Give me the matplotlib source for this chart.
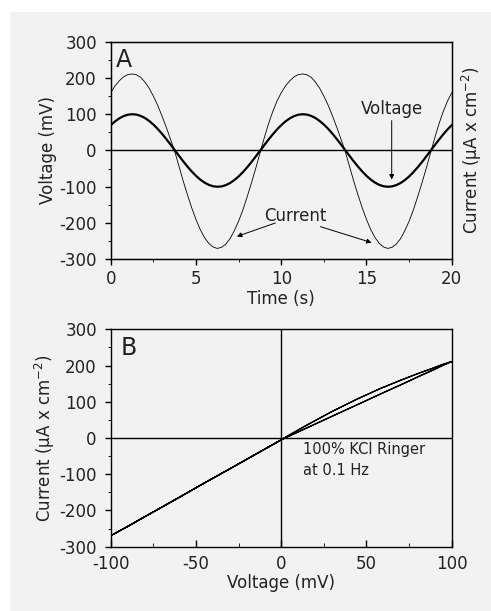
import numpy as np
import matplotlib
matplotlib.use("Agg")
import matplotlib.pyplot as plt
from matplotlib.patches import Rectangle
from matplotlib.ticker import MultipleLocator

plt.rcParams['font.family'] = ['DejaVu Sans']
plt.rcParams['axes.unicode_minus'] = False

# sinusoidal clamp, 0.1 Hz, sampled every 0.25 s
time_s = np.arange(0, 20.01, 0.25)

voltage_mv = [
    69.8, 80.2, 88.5, 94.7, 98.6, 100.0, 99.0, 95.5, 89.7, 81.6,
    71.6, 59.8, 46.5, 32.1, 16.9, 1.3, -14.4, -29.7, -44.3, -57.8,
    -69.8, -80.2, -88.5, -94.7, -98.6, -100.0, -99.0, -95.5, -89.7, -81.6,
    -71.6, -59.8, -46.5, -32.1, -16.9, -1.3, 14.4, 29.7, 44.3, 57.8,
    69.8, 80.2, 88.5, 94.7, 98.6, 100.0, 99.0, 95.5, 89.7, 81.6,
    71.6, 59.8, 46.5, 32.1, 16.9, 1.3, -14.4, -29.7, -44.3, -57.8,
    -69.8, -80.2, -88.5, -94.7, -98.6, -100.0, -99.0, -95.5, -89.7, -81.6,
    -71.6, -59.8, -46.5, -32.1, -16.9, -1.3, 14.4, 29.7, 44.3, 57.8,
    69.8,
]

current_ua = [
    159, 178, 192, 203, 209, 211, 209, 202, 189, 172,
    150, 125, 96, 65, 32, -2, -43, -84, -122, -158,
    -190, -218, -240, -256, -266, -270, -267, -258, -243, -221,
    -195, -164, -128, -90, -50, -8, 34, 73, 107, 136,
    159, 178, 192, 203, 209, 211, 209, 202, 189, 172,
    150, 125, 96, 65, 32, -2, -43, -84, -122, -158,
    -190, -218, -240, -256, -266, -270, -267, -258, -243, -221,
    -195, -164, -128, -90, -50, -8, 34, 73, 107, 136,
    159,
]

txt = '#222222'
bg = '#f2f2f2'

fig = plt.figure(figsize=(4.91, 6.11), dpi=100, facecolor='white')
fig.patches.append(Rectangle((10 / 491, 0.0), 1 - 10 / 491, 0.98,
                             transform=fig.transFigure, facecolor=bg,
                             edgecolor='none', zorder=-10))

axA = fig.add_axes([0.2255, 0.5756, 0.6945, 0.3562])
axB = fig.add_axes([0.2255, 0.1052, 0.6945, 0.3558])

for ax in (axA, axB):
    ax.set_facecolor(bg)
    for sp in ax.spines.values():
        sp.set_linewidth(1.0)
    ax.tick_params(labelsize=12, colors='k', labelcolor=txt, width=1.0)
    ax.tick_params(axis='y', which='major', direction='out', length=4, pad=6)
    ax.tick_params(axis='y', which='minor', direction='out', length=2.5)
    ax.yaxis.set_major_locator(MultipleLocator(100))
    ax.yaxis.set_minor_locator(MultipleLocator(50))
    ax.set_ylim(-300, 300)

# A: voltage and current against time
axA.plot(time_s, current_ua, color='k', lw=0.6)
axA.plot(time_s, voltage_mv, color='k', lw=1.6)
axA.axhline(0, color='k', lw=1.0)
axA.set_xlim(0, 20)
axA.xaxis.set_major_locator(MultipleLocator(5))
axA.xaxis.set_minor_locator(MultipleLocator(2.5))
axA.tick_params(axis='x', which='major', direction='out', length=4, pad=4)
axA.tick_params(axis='x', which='minor', direction='out', length=2.5)
axA.set_xlabel('Time (s)', fontsize=12, color=txt, labelpad=1)
axA.set_ylabel('Voltage (mV)', fontsize=12, color=txt, labelpad=2)
axA.text(0.015, 0.97, 'A', transform=axA.transAxes, fontsize=17,
         color=txt, va='top', ha='left')

axA2 = axA.twinx()
axA2.set_ylim(-300, 300)
axA2.set_yticks([])
axA2.set_ylabel('Current (μA x cm$^{-2}$)', fontsize=12, color=txt,
                labelpad=6)

arrow = dict(arrowstyle='-|>', color='k', lw=0.7, mutation_scale=7,
             shrinkA=0, shrinkB=0)
axA.annotate('Voltage', xy=(16.48, -80), xytext=(16.48, 90),
             fontsize=12, color=txt, ha='center', va='bottom',
             arrowprops=arrow)
axA.text(10.8, -180, 'Current', fontsize=12, color=txt,
         ha='center', va='center')
axA.annotate('', xy=(7.4, -237), xytext=(9.65, -200), arrowprops=arrow)
axA.annotate('', xy=(15.3, -254), xytext=(12.3, -210), arrowprops=arrow)

# B: current-voltage loop
axB.plot(voltage_mv, current_ua, color='k', lw=0.9)
axB.axhline(0, color='k', lw=1.0)
axB.axvline(0, color='k', lw=1.0)
axB.set_xlim(-100, 100)
axB.xaxis.set_major_locator(MultipleLocator(50))
axB.xaxis.set_minor_locator(MultipleLocator(25))
axB.tick_params(axis='x', which='major', direction='in', length=5, pad=6)
axB.tick_params(axis='x', which='minor', direction='in', length=3)
axB.set_xlabel('Voltage (mV)', fontsize=12, color=txt, labelpad=1)
axB.set_ylabel('Current (μA x cm$^{-2}$)', fontsize=12, color=txt,
               labelpad=2)
axB.text(0.03, 0.97, 'B', transform=axB.transAxes, fontsize=17,
         color=txt, va='top', ha='left')
axB.text(13, -12, '100% KCl Ringer\nat 0.1 Hz', fontsize=10.5, color=txt,
         ha='left', va='top', linespacing=1.45)

fig.savefig('out.png', dpi=100, facecolor='white')
